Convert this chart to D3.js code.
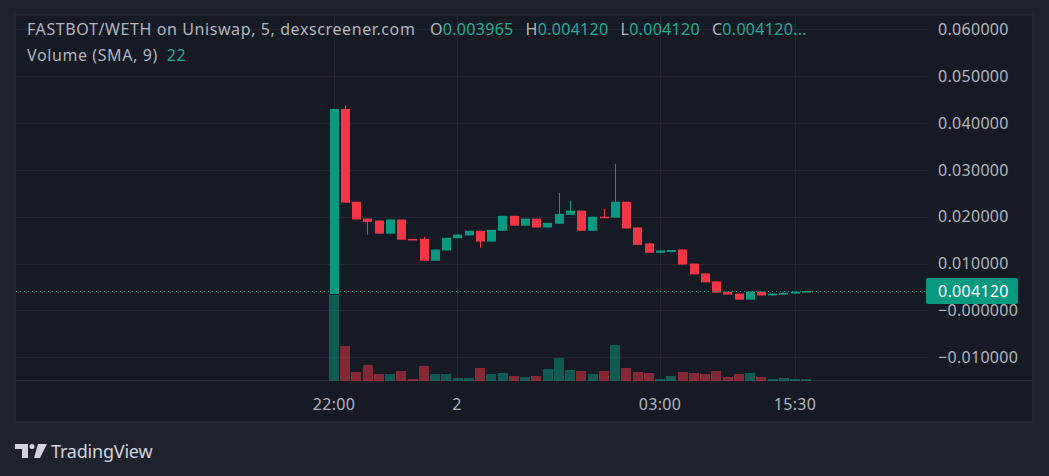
<!DOCTYPE html>
<html>
<head>
<meta charset="utf-8">
<script src="https://cdn.jsdelivr.net/npm/d3@7"></script>
<style>
  body { margin: 0; background: #1e222d; }
  svg { display: block; font-family: "Noto Sans", sans-serif; }
</style>
</head>
<body>
<div id="chart"></div>
<script>
// candles
const opens  = [0.0035, 0.0430, 0.0232, 0.0196, 0.0192, 0.0164, 0.0194, 0.01525, 0.0153, 0.0106,
                0.0128, 0.0154, 0.0160, 0.0170, 0.0147, 0.0170, 0.0202, 0.0181, 0.0196, 0.0177,
                0.0185, 0.0204, 0.0213, 0.0170, 0.0200, 0.0198, 0.0232, 0.0177, 0.0143, 0.0123,
                0.0125, 0.0130, 0.0100, 0.0079, 0.0062, 0.0040, 0.0036, 0.0023, 0.0040, 0.0032,
                0.0034, 0.0036, 0.003965];
const highs  = [0.0430, 0.0438, 0.0232, 0.0196, 0.0192, 0.0194, 0.0194, 0.01525, 0.0157, 0.0130,
                0.0155, 0.0162, 0.0170, 0.0170, 0.0172, 0.0202, 0.0202, 0.0196, 0.0196, 0.0187,
                0.0251, 0.0234, 0.0213, 0.0200, 0.0217, 0.0313, 0.0232, 0.0177, 0.0145, 0.0128,
                0.0129, 0.0130, 0.0100, 0.0079, 0.0062, 0.0040, 0.0036, 0.0040, 0.0040, 0.0036,
                0.0038, 0.0040, 0.00412];
const lows   = [0.0035, 0.0230, 0.0194, 0.0162, 0.0164, 0.0164, 0.0151, 0.0151, 0.0106, 0.0106,
                0.0128, 0.0154, 0.0160, 0.0134, 0.0147, 0.0170, 0.0181, 0.0181, 0.0177, 0.0177,
                0.0185, 0.0204, 0.0170, 0.0170, 0.0199, 0.0198, 0.0175, 0.0140, 0.0123, 0.0123,
                0.0124, 0.0098, 0.0077, 0.0060, 0.0038, 0.0034, 0.0023, 0.0023, 0.0032, 0.0032,
                0.0034, 0.0036, 0.003965];
const closes = [0.0430, 0.0230, 0.0194, 0.0189, 0.0164, 0.0194, 0.0151, 0.0151, 0.0106, 0.0130,
                0.0155, 0.0162, 0.0170, 0.0147, 0.0172, 0.0202, 0.0181, 0.0196, 0.0177, 0.0187,
                0.0206, 0.0213, 0.0170, 0.0200, 0.0199, 0.0232, 0.0175, 0.0140, 0.0123, 0.0128,
                0.0129, 0.0098, 0.0077, 0.0060, 0.0038, 0.0034, 0.0023, 0.0040, 0.0032, 0.0036,
                0.0038, 0.0040, 0.00412];
const volumes = [946, 385, 99, 176, 77, 77, 110, 22, 165, 77, 77, 33, 33, 143, 77, 88, 55, 44, 55, 132,
                 253, 121, 110, 77, 110, 396, 143, 99, 88, 22, 55, 99, 88, 77, 110, 44, 77, 88, 44, 22,
                 33, 22, 22];

const priceTicks = [0.06, 0.05, 0.04, 0.03, 0.02, 0.01, 0, -0.01];
const timeTickIdx = [0, 11, 29, 41];
const timeTickText = ["22:00", "2", "03:00", "15:30"];

const lastPrice = 0.00412;
const title = "FASTBOT/WETH on Uniswap, 5, dexscreener.com";
const ohlcLabels = ["O", "H", "L", "C"];
const ohlcValues = ["0.003965", "0.004120", "0.004120", "0.004120..."];
const volLabel = "Volume (SMA, 9)";
const volValue = "22";

const W = 1049, H = 476;
const pane = {left: 15, top: 15, right: 927, bottom: 380};
const frameRight = 1033, frameBottom = 422;

const UP = "#089981", DOWN = "#f23645";
const UP_VOL = "rgba(8,153,129,0.5)", DOWN_VOL = "rgba(242,54,69,0.5)";

let svg = d3.select("#chart").append("svg")
    .attr("width", W)
    .attr("height", H);

svg.append("rect").attr("width", W).attr("height", H).attr("fill", "#1e222d");
svg.append("rect")
    .attr("x", pane.left).attr("y", pane.top)
    .attr("width", frameRight - pane.left).attr("height", frameBottom - pane.top)
    .attr("fill", "#161a25").attr("stroke", "#2a2e39");
svg.append("line")
    .attr("x1", pane.left).attr("x2", frameRight)
    .attr("y1", pane.bottom + 0.5).attr("y2", pane.bottom + 0.5)
    .attr("stroke", "#2a2e39");

let data = opens.map(function(o, i) {
    return {i: i, o: o, h: highs[i], l: lows[i], c: closes[i], v: volumes[i]};
});

let x = d3.scaleBand()
    .domain(data.map(function(d) { return d.i; }))
    .range([329, 329 + 43 * 11.2])
    .paddingInner(0.18);

let y = d3.scaleLinear()
    .domain([-0.01, 0.06])
    .range([357.3, 29.3]);

let yVol = d3.scaleLinear()
    .domain([0, d3.max(volumes)])
    .range([pane.bottom + 1, 295]);

let cx = function(i) { return Math.round(x(i) + x.bandwidth() / 2); };

// grid
let grid = svg.append("g").attr("stroke", "#232632");
grid.selectAll("line.h").data(priceTicks).enter().append("line")
    .attr("x1", pane.left + 1).attr("x2", pane.right)
    .attr("y1", function(d) { return Math.round(y(d)) + 0.5; })
    .attr("y2", function(d) { return Math.round(y(d)) + 0.5; });
grid.selectAll("line.v").data(timeTickIdx).enter().append("line")
    .attr("x1", function(d) { return cx(d) + 0.5; })
    .attr("x2", function(d) { return cx(d) + 0.5; })
    .attr("y1", pane.top + 1).attr("y2", pane.bottom);

// volume
svg.append("g").selectAll("rect").data(data).enter().append("rect")
    .attr("x", function(d) { return Math.round(x(d.i)); })
    .attr("width", Math.round(x.step()) - 1)
    .attr("y", function(d) { return yVol(d.v); })
    .attr("height", function(d) { return yVol(0) - yVol(d.v); })
    .attr("fill", function(d) { return d.c >= d.o ? UP_VOL : DOWN_VOL; });

// candles
let candles = svg.append("g");
candles.selectAll("line").data(data).enter().append("line")
    .attr("x1", function(d) { return cx(d.i) + 0.5; })
    .attr("x2", function(d) { return cx(d.i) + 0.5; })
    .attr("y1", function(d) { return y(d.h); })
    .attr("y2", function(d) { return y(d.l); })
    .attr("stroke", function(d) { return d.c >= d.o ? UP : DOWN; });
candles.selectAll("rect").data(data).enter().append("rect")
    .attr("x", function(d) { return cx(d.i) - 4; })
    .attr("width", 9)
    .attr("y", function(d) { return y(Math.max(d.o, d.c)); })
    .attr("height", function(d) { return Math.max(1.5, Math.abs(y(d.o) - y(d.c))); })
    .attr("fill", function(d) { return d.c >= d.o ? UP : DOWN; });

// last price line
svg.append("line")
    .attr("x1", pane.left + 1).attr("x2", pane.right)
    .attr("y1", Math.round(y(lastPrice)) + 0.5).attr("y2", Math.round(y(lastPrice)) + 0.5)
    .attr("stroke", UP).attr("stroke-dasharray", "1,3");

// price axis labels
svg.append("g").selectAll("text").data(priceTicks).enter().append("text")
    .attr("x", 938)
    .attr("y", function(d) { return y(d); })
    .attr("dy", "0.36em")
    .attr("fill", "#b2b5be")
    .style("font-size", "16px")
    .style("letter-spacing", "0.3px")
    .text(function(d) { return (d < 0 || d === 0 ? "\u2212" : "") + Math.abs(d).toFixed(6); });

svg.append("rect")
    .attr("x", 926).attr("y", Math.round(y(lastPrice)) - 13)
    .attr("width", 92).attr("height", 26)
    .attr("rx", 2)
    .attr("fill", UP);
svg.append("text")
    .attr("x", 938).attr("y", y(lastPrice))
    .attr("dy", "0.36em")
    .attr("fill", "#ffffff")
    .style("font-size", "16px")
    .style("letter-spacing", "0.3px")
    .text(lastPrice.toFixed(6));

// time axis labels
svg.append("g").selectAll("text").data(timeTickIdx).enter().append("text")
    .attr("x", function(d) { return cx(d); })
    .attr("y", 404)
    .attr("dy", "0.36em")
    .attr("text-anchor", "middle")
    .attr("fill", "#b2b5be")
    .style("font-size", "16px")
    .style("letter-spacing", "0.3px")
    .text(function(d, i) { return timeTickText[i]; });

// legend
svg.append("text")
    .attr("x", 27).attr("y", 35)
    .attr("fill", "#b2b5be")
    .style("font-size", "16px")
    .style("letter-spacing", "0.6px")
    .text(title);
let ohlc = svg.append("text")
    .attr("x", 430).attr("y", 35)
    .style("font-size", "16px")
    .style("letter-spacing", "0.3px");
ohlcLabels.forEach(function(lbl, i) {
    ohlc.append("tspan").attr("fill", "#b2b5be").attr("dx", i ? 12 : 0).text(lbl);
    ohlc.append("tspan").attr("fill", "#22ab94").text(ohlcValues[i]);
});
let vt = svg.append("text")
    .attr("x", 27).attr("y", 61)
    .style("font-size", "16px")
    .style("letter-spacing", "0.6px");
vt.append("tspan").attr("fill", "#b2b5be").text(volLabel);
vt.append("tspan").attr("fill", "#22ab94").attr("dx", 9).text(volValue);

// TradingView mark
let logo = svg.append("g").attr("fill", "#d1d4dc");
logo.append("path").attr("d", "M15,444 h13 v14 h-6 v-9 h-7 z");
logo.append("circle").attr("cx", 32).attr("cy", 446.5).attr("r", 2.5);
logo.append("path").attr("d", "M38,444 h9 l-7,14 h-6 z");
svg.append("text")
    .attr("x", 51).attr("y", 458)
    .attr("fill", "#d1d4dc")
    .style("font-size", "18px")
    .style("letter-spacing", "-0.2px")
    .text("TradingView");
</script>
</body>
</html>
